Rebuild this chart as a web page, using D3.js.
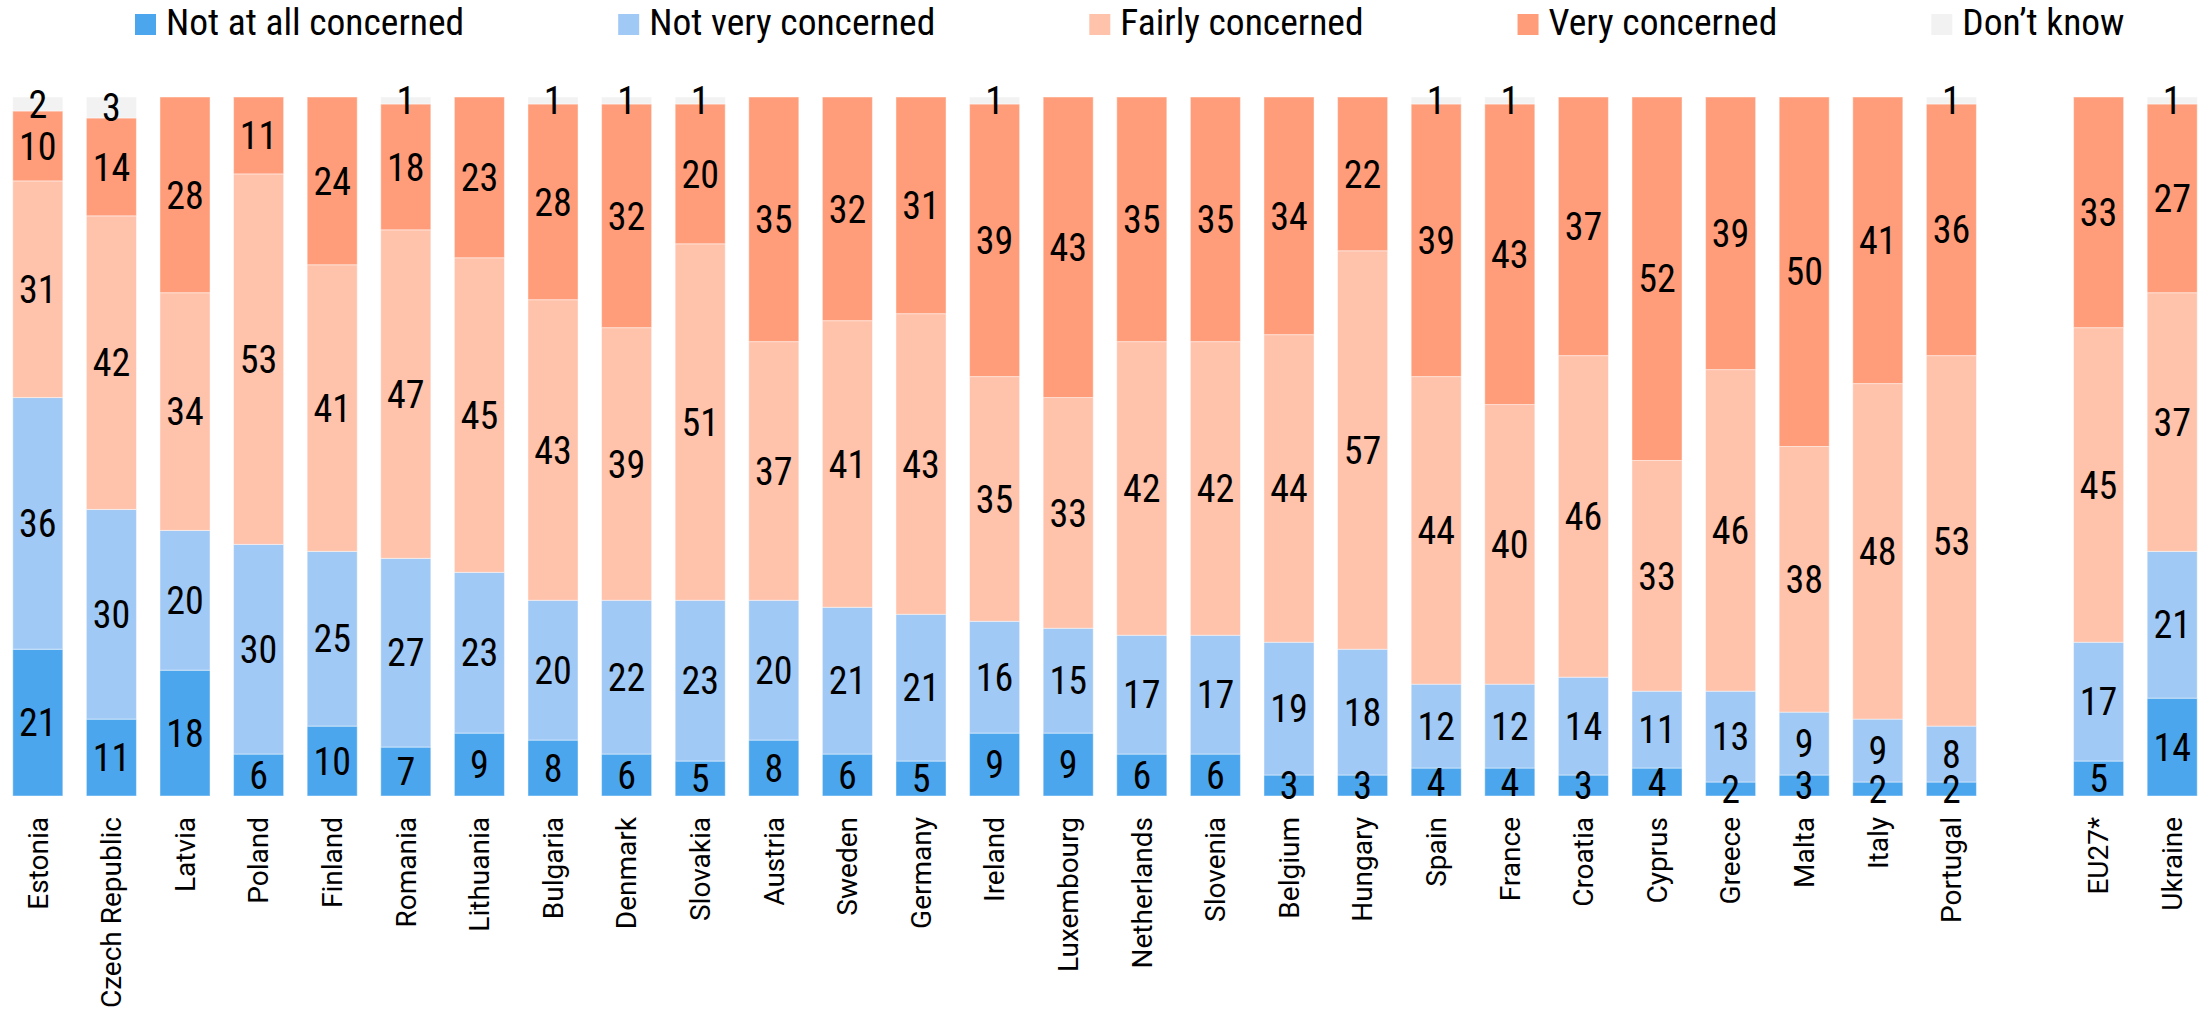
<!DOCTYPE html>
<html lang="en">
<head>
<meta charset="UTF-8">
<title></title>
<script src="https://d3js.org/d3.v7.min.js"></script>
<style>
	body{margin:0;background:#fff;}
	svg{display:block;}
</style>
</head>
<body>
<svg width="2205" height="1009" id="drawing_pad"></svg>
<script>
	//the data
	let countries = ["Estonia","Czech Republic","Latvia","Poland","Finland","Romania","Lithuania","Bulgaria","Denmark","Slovakia","Austria","Sweden","Germany","Ireland","Luxembourg","Netherlands","Slovenia","Belgium","Hungary","Spain","France","Croatia","Cyprus","Greece","Malta","Italy","Portugal","EU27*","Ukraine"];
	let notAtAll  = [21,11,18, 6,10, 7, 9, 8, 6, 5, 8, 6, 5, 9, 9, 6, 6, 3, 3, 4, 4, 3, 4, 2, 3, 2, 2, 5,14];
	let notVery   = [36,30,20,30,25,27,23,20,22,23,20,21,21,16,15,17,17,19,18,12,12,14,11,13, 9, 9, 8,17,21];
	let fairly    = [31,42,34,53,41,47,45,43,39,51,37,41,43,35,33,42,42,44,57,44,40,46,33,46,38,48,53,45,37];
	let very      = [10,14,28,11,24,18,23,28,32,20,35,32,31,39,43,35,35,34,22,39,43,37,52,39,50,41,36,33,27];
	let dontKnow  = [ 2, 3, 0, 0, 0, 1, 0, 1, 1, 1, 0, 0, 0, 1, 0, 0, 0, 0, 0, 1, 1, 0, 0, 0, 0, 0, 1, 0, 1];
	let seriesKeys   = ["notAtAll","notVery","fairly","very","dontKnow"];
	let seriesNames  = ["Not at all concerned","Not very concerned","Fairly concerned","Very concerned","Don\u2019t know"];
	let seriesColors = ["#4ca6ee","#a1c9f5","#ffc2ab","#ff9d7a","#f2f2f2"];

	let svg = d3.select("#drawing_pad");
	let width  = 2205, height = 1009;
	let top_y = 97, bottom_y = 796;

	//check if a condensed font is there, else squeeze Roboto
	let probe = svg.append("text").attr("font-size",40).text("Not at all concerned 0123456789");
	probe.attr("font-family","Roboto");
	let wPlain = probe.node().getComputedTextLength();
	probe.attr("font-family","'Roboto Condensed', Roboto");
	let wCond = probe.node().getComputedTextLength();
	probe.remove();
	let condFont = "'Roboto Condensed', Roboto, sans-serif";
	let squeeze = (Math.abs(wPlain-wCond) < 1) ? 0.85 : 1;

	let rows = countries.map(function(c,i){
		return {country:c, notAtAll:notAtAll[i], notVery:notVery[i], fairly:fairly[i], very:very[i], dontKnow:dontKnow[i]};
	});
	let stacked = d3.stack().keys(seriesKeys)(rows);

	//a blank slot sits between the member states and EU27*/Ukraine
	let domain = countries.slice(0,27).concat(["_gap"]).concat(countries.slice(27));
	let x = d3.scaleBand().domain(domain).range([1,2209]).paddingInner(0.32).paddingOuter(0.16);
	let y = d3.scaleLinear().domain([0,100]).range([bottom_y, top_y]);

	let layers = svg.append("g").selectAll("g").data(stacked).enter().append("g")
		.style("fill",function(d,i){return seriesColors[i];});

	layers.selectAll("rect").data(function(d){return d;}).enter().append("rect")
		.attr("x",function(d){return x(d.data.country);})
		.attr("width",x.bandwidth())
		.attr("y",function(d){return y(d[1]);})
		.attr("height",function(d){return y(d[0])-y(d[1]);})
		.attr("stroke","#fff").attr("stroke-width",1).attr("stroke-opacity",0.45);

	//value labels in the middle of each segment
	let labels = svg.append("g").attr("font-family",condFont).attr("font-size",38).attr("fill","#000");
	stacked.forEach(function(layer){
		layer.forEach(function(d){
			let v = d[1]-d[0];
			if(v <= 0) return;
			let cx = x(d.data.country) + x.bandwidth()/2;
			let cy = (y(d[0]) + y(d[1]))/2;
			labels.append("text")
				.attr("transform","translate("+cx+","+cy+") scale("+squeeze+",1)")
				.attr("text-anchor","middle")
				.attr("dy","0.36em")
				.text(v);
		});
	});

	//category axis with rotated names
	let axis = svg.append("g").attr("transform","translate(0,"+bottom_y+")")
		.call(d3.axisBottom(x).tickSize(0));
	axis.select(".domain").remove();
	axis.selectAll(".tick").filter(function(d){return d==="_gap";}).remove();
	axis.selectAll(".tick text")
		.attr("font-family","Roboto, sans-serif")
		.attr("font-size",28)
		.attr("fill","#000")
		.attr("transform","rotate(-90)")
		.attr("text-anchor","end")
		.attr("x",-21)
		.attr("y",0)
		.attr("dy","0.35em");

	//legend across the top
	let legend = svg.append("g").attr("font-family",condFont).attr("font-size",37.5);
	let lx = 135;
	seriesNames.forEach(function(name,i){
		legend.append("rect").attr("x",lx).attr("y",14).attr("width",21).attr("height",21).style("fill",seriesColors[i]);
		let t = legend.append("text")
			.attr("transform","translate("+(lx+31)+",35) scale("+squeeze+",1)")
			.attr("fill","#000")
			.text(name);
		lx = lx + 31 + t.node().getComputedTextLength()*squeeze + 154;
	});
</script>
</body>
</html>
